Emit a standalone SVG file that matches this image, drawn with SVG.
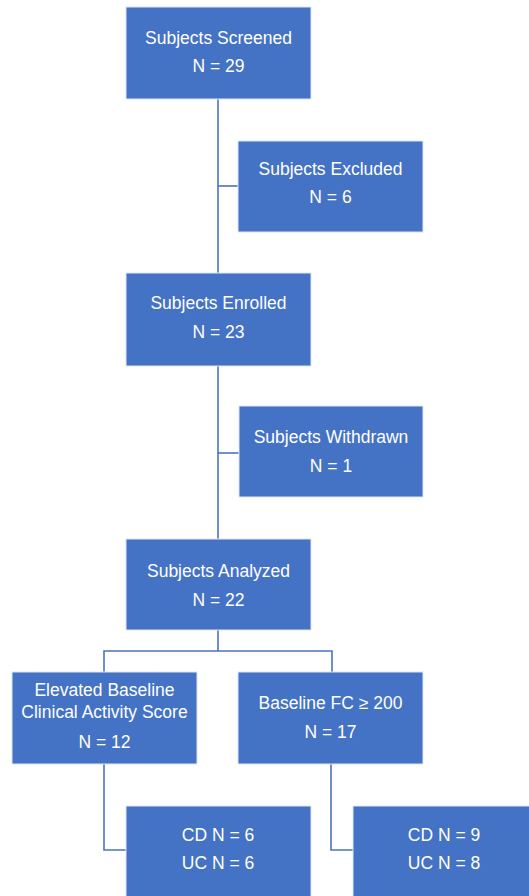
<svg xmlns="http://www.w3.org/2000/svg" width="529" height="896" viewBox="0 0 529 896">
<style>
.box{fill:#4472C4;stroke:#dfe6f3;stroke-width:1}
.t{font-family:"Liberation Sans",Arial,sans-serif;font-size:17.5px;fill:#ffffff;text-anchor:middle}
.c{fill:none;stroke:#4a74bf;stroke-width:1.6}
</style>
<rect width="529" height="896" fill="#ffffff"/>
<g id="connectors">
<path class="c" d="M218,99 V539"/>
<path class="c" d="M218,186 H238"/>
<path class="c" d="M218,453 H239"/>
<path class="c" d="M218,630 V651 M104,672 V651 H332 V672"/>
<path class="c" d="M104,764 V850 H126"/>
<path class="c" d="M331,764 V850 H353"/>
</g>
<g id="screened"><rect class="box" x="126" y="7" width="185" height="92"/><text class="t" x="218.5" y="44">Subjects Screened</text><text class="t" x="218.5" y="72">N = 29</text></g>
<g id="excluded"><rect class="box" x="238" y="141" width="185" height="91"/><text class="t" x="330.5" y="175">Subjects Excluded</text><text class="t" x="330.5" y="203">N = 6</text></g>
<g id="enrolled"><rect class="box" x="126" y="273" width="185" height="93"/><text class="t" x="218.5" y="309">Subjects Enrolled</text><text class="t" x="218.5" y="338">N = 23</text></g>
<g id="withdrawn"><rect class="box" x="239" y="406" width="184" height="91"/><text class="t" x="331" y="443">Subjects Withdrawn</text><text class="t" x="331" y="472">N = 1</text></g>
<g id="analyzed"><rect class="box" x="126" y="539" width="185" height="91"/><text class="t" x="218.5" y="577">Subjects Analyzed</text><text class="t" x="218.5" y="606">N = 22</text></g>
<g id="elevated"><rect class="box" x="12" y="672" width="185" height="92"/><text class="t" x="104.5" y="696">Elevated Baseline</text><text class="t" x="104.5" y="718">Clinical Activity Score</text><text class="t" x="104.5" y="748">N = 12</text></g>
<g id="baselinefc"><rect class="box" x="238" y="672" width="185" height="92"/><text class="t" x="330.5" y="709">Baseline FC ≥ 200</text><text class="t" x="330.5" y="738">N = 17</text></g>
<g id="cduc1"><rect class="box" x="126" y="806" width="185" height="100"/><text class="t" x="218" y="841">CD N = 6</text><text class="t" x="218" y="869">UC N = 6</text></g>
<g id="cduc2"><rect class="box" x="353" y="806" width="182" height="100"/><text class="t" x="444" y="841">CD N = 9</text><text class="t" x="444" y="869">UC N = 8</text></g>
</svg>
